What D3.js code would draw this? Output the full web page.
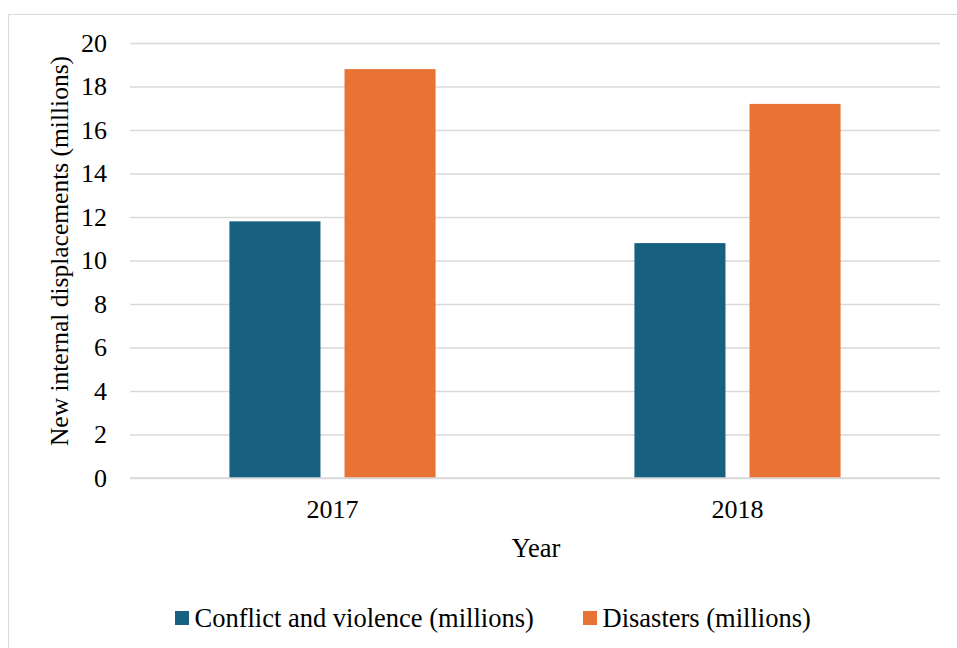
<!DOCTYPE html>
<html><head><meta charset="utf-8">
<script src="https://cdn.jsdelivr.net/npm/d3@7"></script>
<style>body{margin:0;background:#fff;}svg{display:block;font-family:"Liberation Serif","Times New Roman",serif;}</style>
</head><body>
<svg id="c" width="957" height="648"></svg>
<script>
const categories = ["2017", "2018"];
const seriesNames = ["Conflict and violence (millions)", "Disasters (millions)"];
const conflict = [11.8, 10.8];
const disasters = [18.8, 17.2];
const yTicks = [0, 2, 4, 6, 8, 10, 12, 14, 16, 18, 20];
const colors = ["#17607f", "#e87335"];

const svg = d3.select("#c");
svg.append("rect").attr("x", 8.5).attr("y", 14.5).attr("width", 960).attr("height", 650)
  .attr("fill", "#fff").attr("stroke", "#d9d9d9");

const pLeft = 130, pRight = 940, pTop = 43, pBottom = 478;
const x0 = d3.scaleBand().domain(categories).range([pLeft, pRight]).paddingInner(0.491).paddingOuter(0.2455);
const x1 = d3.scaleBand().domain(seriesNames).range([0, x0.bandwidth()]).paddingInner(0.209).paddingOuter(0);
const y = d3.scaleLinear().domain([0, 20]).range([pBottom, pTop]);

const yAxis = d3.axisLeft(y).tickValues(yTicks).tickSize(-(pRight - pLeft)).tickPadding(23);
const gy = svg.append("g").attr("transform", `translate(${pLeft},0)`).call(yAxis);
gy.attr("font-family", null).attr("font-size", null);
gy.select(".domain").remove();
gy.selectAll(".tick line").attr("stroke", "#d9d9d9").attr("stroke-width", 1.3);
gy.selectAll(".tick text").attr("font-size", 26).attr("fill", "#000");

const data = categories.map((c, i) => ({cat: c, vals: [conflict[i], disasters[i]]}));
const g = svg.append("g");
data.forEach(d => {
  d.vals.forEach((v, j) => {
    g.append("rect")
      .attr("x", x0(d.cat) + x1(seriesNames[j]))
      .attr("y", y(v))
      .attr("width", x1.bandwidth())
      .attr("height", y(0) - y(v))
      .attr("fill", colors[j]);
  });
});

const xAxis = d3.axisBottom(x0).tickSize(0).tickPadding(22);
const gx = svg.append("g").attr("transform", `translate(0,${pBottom})`).call(xAxis);
gx.attr("font-family", null).attr("font-size", null);
gx.select(".domain").attr("stroke", "#d9d9d9").attr("stroke-width", 1.3).attr("d", `M${pLeft},0H${pRight}`);
gx.selectAll(".tick text").attr("font-size", 26).attr("fill", "#000");

svg.append("text").attr("x", 536).attr("y", 557).attr("text-anchor", "middle")
  .attr("font-size", 26.5).text("Year");
svg.append("text").attr("transform", "translate(68,251) rotate(-90)").attr("text-anchor", "middle")
  .attr("font-size", 25.5).text("New internal displacements (millions)");

const legX = [175, 583];
seriesNames.forEach((s, j) => {
  svg.append("rect").attr("x", legX[j]).attr("y", 611).attr("width", 14).attr("height", 14).attr("fill", colors[j]);
  svg.append("text").attr("x", legX[j] + 19.5).attr("y", 626.5).attr("font-size", 26.5).text(s);
});
</script>
</body></html>
